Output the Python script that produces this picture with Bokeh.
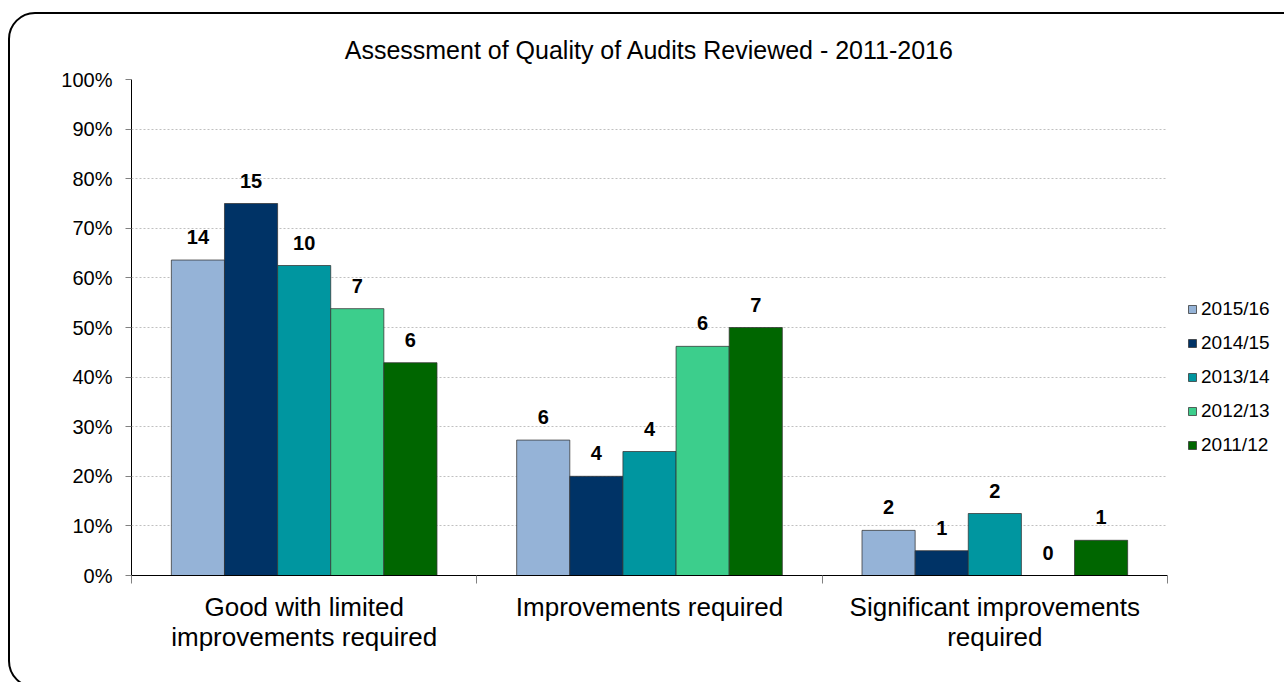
from bokeh.plotting import figure
from bokeh.models import (FixedTicker, PrintfTickFormatter, Legend, LegendItem,
                          InlineStyleSheet, ColumnDataSource)
from bokeh.core.properties import value
from bokeh.embed import file_html
from bokeh.resources import INLINE

# ---------------- data ----------------
categories = ["Good with limited\nimprovements required",
              "Improvements required",
              "Significant improvements\nrequired"]
periods = ["2015/16", "2014/15", "2013/14", "2012/13", "2011/12"]

counts_2015 = [14, 6, 2]
counts_2014 = [15, 4, 1]
counts_2013 = [10, 4, 2]
counts_2012 = [7, 6, 0]
counts_2011 = [6, 7, 1]

pct_2015 = [63.6, 27.3, 9.1]
pct_2014 = [75.0, 20.0, 5.0]
pct_2013 = [62.5, 25.0, 12.5]
pct_2012 = [53.8, 46.2, 0.0]
pct_2011 = [42.9, 50.0, 7.1]

y_ticks = [0, 10, 20, 30, 40, 50, 60, 70, 80, 90, 100]

colors = ["#95B3D7", "#003366", "#0096A0", "#3CCE8C", "#006600"]
series_counts = [counts_2015, counts_2014, counts_2013, counts_2012, counts_2011]
series_pct = [pct_2015, pct_2014, pct_2013, pct_2012, pct_2011]

FONT = "Liberation Sans"

p = figure(frame_width=1036, frame_height=496, x_range=(0, 3), y_range=(0, 100),
           output_backend="svg", toolbar_location=None, tools="",
           min_border_left=131, min_border_right=117,
           min_border_top=79, min_border_bottom=107)
p.outline_line_color = None
p.background_fill_color = "white"
p.border_fill_color = "white"

# title
p.title.text = "Assessment of Quality of Audits Reviewed - 2011-2016"
p.title.text_font = FONT
p.title.text_font_size = "25px"
p.title.text_font_style = "normal"
p.title.text_color = "#000000"
p.title.align = "center"
p.title.standoff = 31

bar_w = 1 / 6.5
renderers = []
for k, (name, col, pct, cnt) in enumerate(zip(periods, colors, series_pct, series_counts)):
    xs = [i + 0.5 + (k - 2) * bar_w for i in range(len(categories))]
    src = ColumnDataSource(dict(x=xs, top=pct, lab=[str(c) for c in cnt]))
    r = p.vbar(x="x", top="top", bottom=0, width=bar_w, source=src,
               fill_color=col, line_color="#333333", line_alpha=0.75, line_width=1)
    renderers.append(r)
    p.text(x="x", y="top", text="lab", source=src, text_align="center",
           text_baseline="alphabetic", y_offset=-23,
           text_font=value(FONT), text_font_size="20px", text_font_style="bold",
           text_color="#000000")

# grid
p.xgrid.visible = False
p.ygrid.ticker = FixedTicker(ticks=y_ticks[1:-1])
p.ygrid.grid_line_color = "#c0c0c0"
p.ygrid.grid_line_dash = "2 2"
p.ygrid.grid_line_width = 1

# y axis
p.yaxis.ticker = FixedTicker(ticks=y_ticks)
p.yaxis.formatter = PrintfTickFormatter(format="%d%%")
p.yaxis.axis_line_color = "#000000"
p.yaxis.major_tick_line_color = "#808080"
p.yaxis.major_tick_out = 6
p.yaxis.major_tick_in = 0
p.yaxis.minor_tick_line_color = None
p.yaxis.major_label_text_font = FONT
p.yaxis.major_label_text_font_size = "20px"
p.yaxis.major_label_text_color = "#000000"
p.yaxis.major_label_standoff = 13

# x axis
p.xaxis.ticker = FixedTicker(ticks=[0.5, 1.5, 2.5], minor_ticks=[0, 1, 2, 3])
p.xaxis.major_label_overrides = {i + 0.5: c for i, c in enumerate(categories)}
p.xaxis.axis_line_color = "#000000"
p.xaxis.major_tick_line_color = None
p.xaxis.minor_tick_line_color = "#808080"
p.xaxis.minor_tick_out = 8
p.xaxis.minor_tick_in = 0
p.xaxis.major_label_text_font = FONT
p.xaxis.major_label_text_font_size = "26px"
p.xaxis.major_label_text_color = "#000000"
p.xaxis.major_label_text_line_height = 1.0
p.xaxis.major_label_standoff = 8

# legend
legend = Legend(items=[LegendItem(label=n, renderers=[r]) for n, r in zip(periods, renderers)],
                location=(20, 119), orientation="vertical",
                glyph_width=10, glyph_height=10, label_height=22, spacing=12,
                label_standoff=4, padding=0, margin=0,
                border_line_color=None, background_fill_alpha=0,
                label_text_font=FONT, label_text_font_size="19px",
                label_text_color="#000000")
p.add_layout(legend, "right")

p.stylesheets = [InlineStyleSheet(css="""
:host { position: relative; overflow: hidden; }
:host::after { content: ""; position: absolute; left: 8px; top: 12px;
  width: 1320px; height: 676px; border: 2px solid #000; border-radius: 27px;
  box-sizing: border-box; pointer-events: none; }
""")]

open("out.html", "w").write(file_html(p, INLINE))
